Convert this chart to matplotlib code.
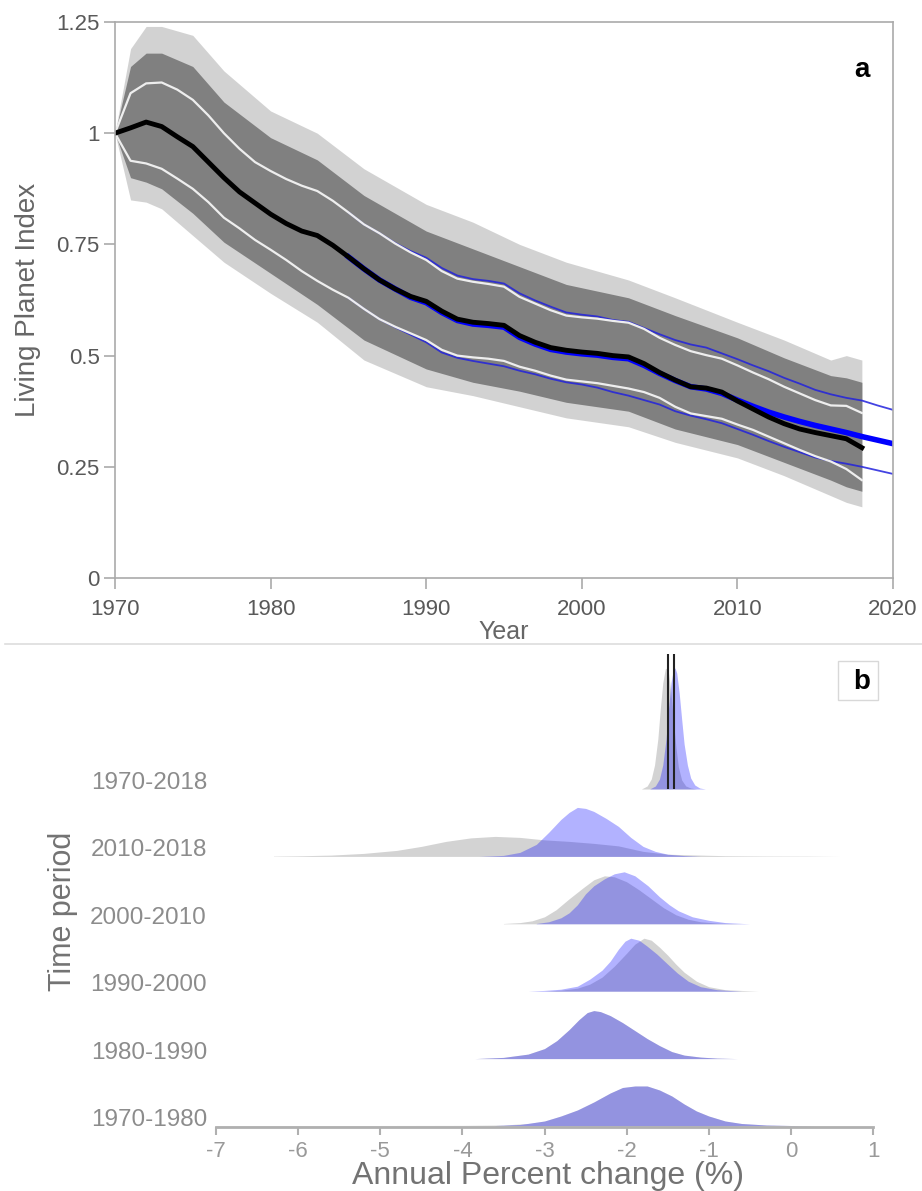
import numpy as np
import matplotlib
matplotlib.use("Agg")
import matplotlib.pyplot as plt
from matplotlib import font_manager
from matplotlib.patches import Rectangle
from matplotlib.lines import Line2D
from matplotlib.transforms import blended_transform_factory

plt.rcParams['font.family'] = ['Liberation Sans', 'DejaVu Sans']
plt.rcParams['axes.unicode_minus'] = False

# ---------------- panel a : Living Planet Index ----------------
years = np.arange(1970, 2019)
lpi = [1.000, 1.012, 1.025, 1.015, 0.992, 0.970, 0.935, 0.900, 0.868, 0.843,
       0.818, 0.797, 0.780, 0.770, 0.748, 0.722, 0.695, 0.670, 0.650, 0.633,
       0.622, 0.600, 0.582, 0.575, 0.572, 0.568, 0.545, 0.530, 0.518, 0.512,
       0.508, 0.505, 0.500, 0.497, 0.482, 0.462, 0.445, 0.430, 0.427, 0.418,
       0.398, 0.380, 0.362, 0.347, 0.335, 0.327, 0.320, 0.313, 0.293]
ci_hi = [1.000, 1.090, 1.112, 1.114, 1.098, 1.075, 1.040, 1.000, 0.965, 0.935,
         0.915, 0.897, 0.882, 0.870, 0.848, 0.822, 0.795, 0.775, 0.752, 0.732,
         0.715, 0.690, 0.673, 0.666, 0.661, 0.655, 0.632, 0.617, 0.602, 0.590,
         0.586, 0.583, 0.578, 0.574, 0.560, 0.540, 0.524, 0.510, 0.501, 0.493,
         0.478, 0.462, 0.447, 0.430, 0.415, 0.400, 0.388, 0.387, 0.371]
ci_lo = [1.000, 0.938, 0.932, 0.920, 0.898, 0.875, 0.845, 0.810, 0.786, 0.760,
         0.738, 0.715, 0.690, 0.668, 0.648, 0.630, 0.605, 0.582, 0.565, 0.550,
         0.535, 0.513, 0.500, 0.496, 0.493, 0.488, 0.475, 0.466, 0.455, 0.446,
         0.442, 0.438, 0.432, 0.426, 0.418, 0.405, 0.385, 0.370, 0.364, 0.358,
         0.345, 0.333, 0.318, 0.303, 0.288, 0.274, 0.262, 0.245, 0.220]

# model fit (blue), extends to 2020
model_years = np.arange(1985, 2021)
model_mid = [0.722, 0.695, 0.670, 0.650, 0.631, 0.619, 0.597, 0.579, 0.571, 0.568,
             0.564, 0.541, 0.526, 0.514, 0.508, 0.504, 0.501, 0.496, 0.493, 0.478,
             0.460, 0.444, 0.430, 0.425, 0.415, 0.400, 0.386, 0.373, 0.362, 0.352,
             0.343, 0.335, 0.327, 0.318, 0.310, 0.302]
model_hi = [0.822, 0.795, 0.775, 0.753, 0.735, 0.720, 0.697, 0.680, 0.672, 0.668,
            0.662, 0.640, 0.624, 0.610, 0.597, 0.592, 0.588, 0.580, 0.576, 0.562,
            0.548, 0.535, 0.525, 0.518, 0.505, 0.492, 0.478, 0.465, 0.450, 0.437,
            0.423, 0.413, 0.405, 0.399, 0.388, 0.378]
model_lo = [0.630, 0.605, 0.582, 0.564, 0.547, 0.530, 0.507, 0.495, 0.488, 0.482,
            0.476, 0.466, 0.458, 0.448, 0.440, 0.435, 0.428, 0.418, 0.410, 0.400,
            0.390, 0.375, 0.365, 0.357, 0.348, 0.335, 0.322, 0.308, 0.295, 0.283,
            0.271, 0.263, 0.257, 0.250, 0.242, 0.234]

# envelope of the bootstrap replicates (dense core and faint outer edge)
env_years = [1970, 1971, 1972, 1973, 1975, 1977, 1980, 1983, 1986, 1990,
             1993, 1996, 1999, 2003, 2006, 2010, 2013, 2016, 2017, 2018]
core_hi = [1.0, 1.15, 1.18, 1.18, 1.15, 1.07, 0.99, 0.94, 0.86, 0.78,
           0.74, 0.70, 0.66, 0.63, 0.59, 0.54, 0.495, 0.455, 0.45, 0.44]
core_lo = [1.0, 0.90, 0.89, 0.875, 0.82, 0.755, 0.685, 0.615, 0.535, 0.47,
           0.44, 0.42, 0.395, 0.375, 0.335, 0.30, 0.26, 0.22, 0.205, 0.195]
outer_hi = [1.0, 1.19, 1.24, 1.24, 1.22, 1.14, 1.05, 1.0, 0.92, 0.84,
            0.80, 0.75, 0.71, 0.67, 0.63, 0.575, 0.535, 0.49, 0.50, 0.49]
outer_lo = [1.0, 0.85, 0.845, 0.83, 0.77, 0.71, 0.64, 0.575, 0.49, 0.43,
            0.41, 0.385, 0.36, 0.34, 0.305, 0.27, 0.23, 0.185, 0.17, 0.16]

# ---------------- panel b : annual rate distributions ----------------
periods = ['1970-1980', '1980-1990', '1990-2000', '2000-2010', '2010-2018', '1970-2018']

x_g_7080 = [-7.0, -5.0, -4.0, -3.5, -3.2, -3.0, -2.8, -2.6, -2.4, -2.2, -2.05, -1.9,
            -1.75, -1.6, -1.45, -1.3, -1.15, -1.0, -0.8, -0.6, -0.3, 0.0, 0.3]
h_g_7080 = [0.5, 0.5, 0.6, 1, 2.5, 5, 10, 16, 24, 33, 38.5, 40,
            40, 36, 30, 22, 15, 10, 5, 2.5, 1, 0.5, 0]
x_b_7080 = [-3.6, -3.3, -3.0, -2.8, -2.6, -2.4, -2.2, -2.05, -1.9, -1.75, -1.6,
            -1.45, -1.3, -1.15, -1.0, -0.8, -0.6, -0.3, 0.0, 0.3]
h_b_7080 = [0.5, 1.5, 5, 10, 16, 24, 33, 38.5, 40, 40, 36,
            30, 22, 15, 10, 5, 2.5, 1, 0.5, 0]

x_g_8090 = [-3.85, -3.5, -3.2, -3.0, -2.85, -2.7, -2.58, -2.48, -2.40, -2.32, -2.2,
            -2.05, -1.9, -1.75, -1.6, -1.45, -1.3, -1.1, -0.9, -0.65]
h_g_8090 = [0, 1.2, 4.5, 10, 18, 29, 39, 46, 48, 47, 43,
            36, 28, 20, 13, 7, 3.5, 1.5, 0.5, 0]
x_b_8090 = x_g_8090
h_b_8090 = [0, 1.2, 4.5, 10, 18, 29, 39, 46, 48, 47, 43,
            36, 28, 20, 13, 7, 3.5, 1.5, 0.5, 0]

x_g_9000 = [-3.0, -2.8, -2.6, -2.45, -2.3, -2.15, -2.0, -1.9, -1.79, -1.7, -1.6,
            -1.5, -1.4, -1.3, -1.15, -1.0, -0.8, -0.4]
h_g_9000 = [0, 1, 3, 7, 14, 25, 38, 47, 53, 51, 44,
            36, 27, 19, 10, 4.5, 1.5, 0]
x_b_9000 = [-3.2, -3.0, -2.8, -2.6, -2.45, -2.3, -2.2, -2.1, -2.02, -1.95, -1.85,
            -1.75, -1.63, -1.5, -1.38, -1.25, -1.1, -0.9, -0.6]
h_b_9000 = [0, 0.8, 2, 5, 12, 21, 30, 42, 50, 53, 51,
            45, 37, 27, 18, 10, 4.5, 1.5, 0]

x_g_0010 = [-3.5, -3.3, -3.15, -3.0, -2.86, -2.7, -2.53, -2.4, -2.27, -2.15,
            -2.0, -1.85, -1.7, -1.55, -1.4, -1.25, -1.1, -0.9, -0.6]
h_g_0010 = [0.3, 1.2, 3, 7, 14, 25, 36, 44, 48, 47,
            42, 34, 25, 16, 9, 4.5, 2, 0.7, 0]
x_b_0010 = [-3.1, -2.95, -2.8, -2.7, -2.6, -2.5, -2.4, -2.27, -2.15, -2.03,
            -1.9, -1.74, -1.6, -1.48, -1.37, -1.2, -1.0, -0.8, -0.5]
h_b_0010 = [0.3, 2, 6, 11, 19, 30, 38, 45, 50, 52,
            48, 38, 27, 19, 13, 7, 3.5, 1.2, 0]

x_g_1018 = [-6.3, -6.0, -5.6, -5.2, -4.8, -4.5, -4.2, -3.9, -3.6, -3.3, -3.0,
            -2.7, -2.4, -2.1, -1.8, -1.5, -1.2, -0.8, -0.3, 0.2, 0.6]
h_g_1018 = [0.3, 0.6, 1.3, 3, 6, 10, 15, 18.5, 20, 19, 16.5,
            15, 13, 10.5, 5, 2.2, 1.5, 0.7, 0.4, 0.3, 0]
x_b_1018 = [-3.8, -3.5, -3.3, -3.1, -2.95, -2.8, -2.7, -2.6, -2.5, -2.4, -2.25,
            -2.1, -1.95, -1.8, -1.65, -1.5, -1.3, -1.1]
h_b_1018 = [0, 1, 4, 12, 24, 37, 44, 49, 48, 45, 38,
            30, 19, 10, 5, 2.2, 0.8, 0]

x_g_7018 = [-1.82, -1.75, -1.70, -1.66, -1.62, -1.59, -1.56, -1.53, -1.51, -1.49,
            -1.46, -1.43, -1.40, -1.37, -1.33, -1.28, -1.22, -1.15]
h_g_7018 = [0, 3, 10, 24, 50, 80, 106, 120, 121, 116,
            96, 68, 42, 22, 9, 3, 1, 0]
x_b_7018 = [-1.72, -1.65, -1.60, -1.56, -1.52, -1.49, -1.46, -1.43, -1.41, -1.39,
            -1.36, -1.33, -1.30, -1.26, -1.22, -1.17, -1.11, -1.04]
h_b_7018 = [0, 3, 10, 24, 50, 80, 106, 120, 121, 116,
            96, 70, 45, 24, 11, 4, 1, 0]

overall_means = [-1.495, -1.42]

ridges = [(x_g_7080, h_g_7080, x_b_7080, h_b_7080),
          (x_g_8090, h_g_8090, x_b_8090, h_b_8090),
          (x_g_9000, h_g_9000, x_b_9000, h_b_9000),
          (x_g_0010, h_g_0010, x_b_0010, h_b_0010),
          (x_g_1018, h_g_1018, x_b_1018, h_b_1018),
          (x_g_7018, h_g_7018, x_b_7018, h_b_7018)]

W, H = 922, 1191
fig = plt.figure(figsize=(W / 100, H / 100), dpi=100)

txt_grey = '#666666'
spine_grey = '#aaaaaa'

# narrow face for the "Time period" title if it is installed
installed = {f.name for f in font_manager.fontManager.ttflist}
if 'Liberation Sans Narrow' in installed:
    narrow_family, tp_size = ['Liberation Sans Narrow', 'DejaVu Sans'], 27
else:
    narrow_family, tp_size = ['Liberation Sans', 'DejaVu Sans'], 22

# ---------------- draw panel a ----------------
axA = fig.add_axes([115 / W, 1 - 578 / H, 778 / W, 556 / H])
axA.fill_between(env_years, outer_lo, outer_hi, color='#808080', alpha=0.35, lw=0)
axA.fill_between(env_years, core_lo, core_hi, color='#808080', lw=0)
axA.plot(model_years, model_hi, color='#2222dd', lw=1.3, alpha=0.85)
axA.plot(model_years, model_lo, color='#2222dd', lw=1.3, alpha=0.85)
axA.plot(model_years, model_mid, color='#0000ff', lw=4)
axA.plot(years, ci_hi, color='#eeeeee', lw=1.6)
axA.plot(years, ci_lo, color='#eeeeee', lw=1.6)
axA.plot(years, lpi, color='black', lw=3.5)

axA.set_xlim(1970, 2020)
axA.set_ylim(0, 1.25)
axA.set_xticks([1970, 1980, 1990, 2000, 2010, 2020])
axA.set_yticks([0, 0.25, 0.5, 0.75, 1, 1.25])
axA.set_yticklabels(['0', '0.25', '0.5', '0.75', '1', '1.25'])
for s in axA.spines.values():
    s.set_color(spine_grey)
    s.set_linewidth(1.2)
axA.tick_params(colors=spine_grey, labelcolor='#595959', labelsize=16,
                length=8, width=1.2)
axA.tick_params(axis='x', pad=7)
axA.tick_params(axis='y', pad=3)
axA.text(0.96, 0.914, 'a', transform=axA.transAxes, fontsize=20,
         fontweight='bold', ha='center', va='center')
fig.text(28 / W, 1 - 300 / H, 'Living Planet Index', rotation=90, fontsize=20,
         color=txt_grey, ha='center', va='center')
fig.text(504 / W, 1 - 632 / H, 'Year', fontsize=18, color=txt_grey,
         ha='center', va='center')

# separator between panels
fig.add_artist(Line2D([5 / W, 1], [1 - 644 / H, 1 - 644 / H], color='#dddddd', lw=1.2))

# ---------------- draw panel b ----------------
row_px = 67.4
axB = fig.add_axes([216 / W, 1 - 1127 / H, 657 / W, 482 / H])
y0 = -1 / row_px
axB.set_ylim(y0, y0 + 482 / row_px)
axB.set_xlim(-7, 1)

for i, (xg, hg, xb, hb) in enumerate(ridges):
    axB.fill_between(xg, i, i + np.array(hg) / row_px, color='#d3d3d3', lw=0)
    axB.fill_between(xb, i, i + np.array(hb) / row_px, color='#0000ff',
                     alpha=0.3, lw=0)
    axB.text(-0.0137, i, periods[i], transform=blended_transform_factory(axB.transAxes, axB.transData),
             ha='right', va='baseline', fontsize=17.5, color='#8c8c8c')

top = len(ridges) - 1
axB.vlines(overall_means, top, top + 135 / row_px, color='#222222', lw=1.5)

for k in ['left', 'right', 'top']:
    axB.spines[k].set_visible(False)
axB.spines['bottom'].set_color('#b0b0b0')
axB.spines['bottom'].set_linewidth(2)
axB.set_yticks([])
axB.set_xticks(range(-7, 2))
axB.set_xticklabels([str(v) for v in range(-7, 2)])
axB.tick_params(axis='x', colors='#b0b0b0', labelcolor='#999999', labelsize=16,
                length=6, width=1.5, pad=4)
axB.patch.set_alpha(0)

fig.text(63 / W, 1 - 911 / H, 'Time period', rotation=90, fontsize=tp_size,
         family=narrow_family, color='#737373', ha='center', va='center')
fig.text(548 / W, 1 - 1176 / H, 'Annual Percent change (%)', fontsize=23,
         color='#737373', ha='center', va='center')

# "b" label box
fig.add_artist(Rectangle((838 / W, 1 - 700 / H), 40 / W, 39 / H, facecolor='white',
                         edgecolor='#d8d8d8', lw=1, transform=fig.transFigure))
fig.text(862 / W, 1 - 682 / H, 'b', fontsize=20, fontweight='bold',
         ha='center', va='center')

fig.savefig('out.png', dpi=100)
